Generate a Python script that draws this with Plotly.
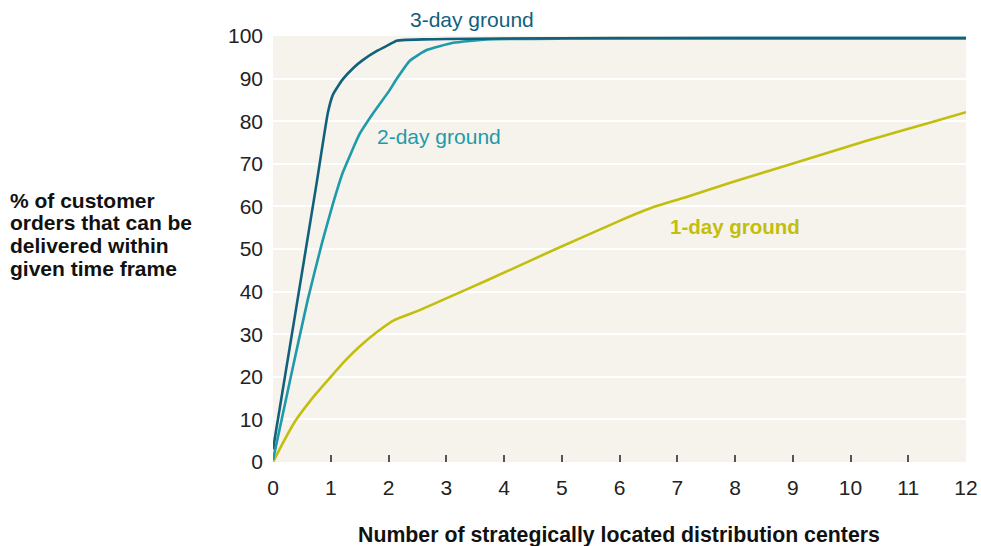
import plotly.graph_objects as go

# Data
x_3day = [0, 0.4, 0.75, 0.95, 1.04, 1.2, 1.4, 1.56, 1.8, 2.0, 2.14, 2.3, 2.6, 3.0, 4.0, 6.0, 8.0, 10.0, 12.0]
y_3day = [3, 36, 65, 82, 86.3, 89.7, 92.6, 94.4, 96.5, 97.9, 98.9, 99.1, 99.2, 99.3, 99.4, 99.5, 99.5, 99.5, 99.5]

x_2day = [0, 0.3, 0.6, 0.85, 1.04, 1.21, 1.5, 1.73, 2.02, 2.14, 2.37, 2.66, 3.12, 3.7, 5.0, 8.0, 12.0]
y_2day = [0.5, 19.5, 38, 51.5, 60.7, 68.0, 77.0, 81.8, 87.3, 89.9, 94.2, 96.7, 98.4, 99.2, 99.4, 99.5, 99.5]

x_1day = [0, 0.2, 0.4, 0.7, 1.0, 1.25, 1.5, 1.8, 2.1, 2.55, 3.0, 3.7, 4.85, 6.0, 6.6, 7.16, 8.0, 9.13, 10.28, 11.43, 12.0]
y_1day = [0, 5.2, 9.9, 15.3, 20, 23.8, 27.1, 30.5, 33.3, 35.7, 38.4, 42.6, 49.7, 56.6, 59.9, 62.2, 65.9, 70.6, 75.4, 79.9, 82.1]

x_ticks = list(range(0, 13))
y_ticks = list(range(0, 101, 10))

y_title_lines = ["% of customer", "orders that can be", "delivered within", "given time frame"]
x_title = "Number of strategically located distribution centers"

c3 = "#12617C"
c2 = "#1E9AAA"
c1 = "#C2BE0E"
FONT = "Liberation Sans, Arial, sans-serif"

fig = go.Figure()
for xs, ys, c in [(x_1day, y_1day, c1), (x_2day, y_2day, c2), (x_3day, y_3day, c3)]:
    fig.add_trace(go.Scatter(x=xs, y=ys, mode="lines", hoverinfo="skip",
                             line=dict(color=c, width=2.6, shape="spline", smoothing=0.4),
                             cliponaxis=False))

W, H = 981, 546
L, T = 273, 36
R = W - 966
B = H - 462
pw, ph = W - L - R, H - T - B

def px_x(px):
    return (px - L) / pw

def px_y(py):
    return (H - B - py) / ph

annotations = [
    dict(x=px_x(408), y=px_y(20), xref="paper", yref="paper", yanchor="middle", text="3-day ground",
         showarrow=False, font=dict(family=FONT, size=21, color=c3)),
    dict(x=2.88, y=76.3, xref="x", yref="y", yanchor="middle", text="2-day ground", showarrow=False,
         font=dict(family=FONT, size=21, color=c2)),
    dict(x=8.0, y=55.4, xref="x", yref="y", yanchor="middle", text="<b>1-day ground</b>", showarrow=False,
         font=dict(family=FONT, size=20.5, color=c1)),
    dict(x=px_x(619), y=px_y(535), xref="paper", yref="paper", yanchor="middle",
         text="<b>" + x_title + "</b>",
         showarrow=False, font=dict(family=FONT, size=21.3, color="#111111")),
]
for i, line in enumerate(y_title_lines):
    annotations.append(dict(x=px_x(8), y=px_y(200 + i * 22.7), xref="paper", yref="paper",
                            xanchor="left", yanchor="middle", text="<b>" + line + "</b>",
                            showarrow=False, font=dict(family=FONT, size=21, color="#111111")))

fig.update_layout(
    width=W, height=H,
    margin=dict(l=L, r=R, t=T, b=B, pad=0, autoexpand=False),
    paper_bgcolor="white",
    plot_bgcolor="#F6F3EC",
    showlegend=False,
    hovermode=False,
    annotations=annotations,
    font=dict(family=FONT, size=21, color="#222222"),
)
fig.update_xaxes(range=[0, 12], tickvals=x_ticks, ticks="inside", ticklen=7, tickwidth=1.5,
                 tickcolor="#555555", showgrid=False, zeroline=False, showline=False, automargin=False,
                 tickfont=dict(family=FONT, size=21, color="#222222"), ticklabelstandoff=11)
fig.update_yaxes(range=[0, 100], tickvals=y_ticks, showgrid=True, gridcolor="white", gridwidth=1.5,
                 zeroline=False, showline=False, ticks="", automargin=False,
                 tickfont=dict(family=FONT, size=21, color="#222222"), ticklabelstandoff=9)

fig.write_html(
    "out.html",
    config={"displayModeBar": False},
    post_script="document.body.style.margin='0';document.body.style.overflow='hidden';",
)
